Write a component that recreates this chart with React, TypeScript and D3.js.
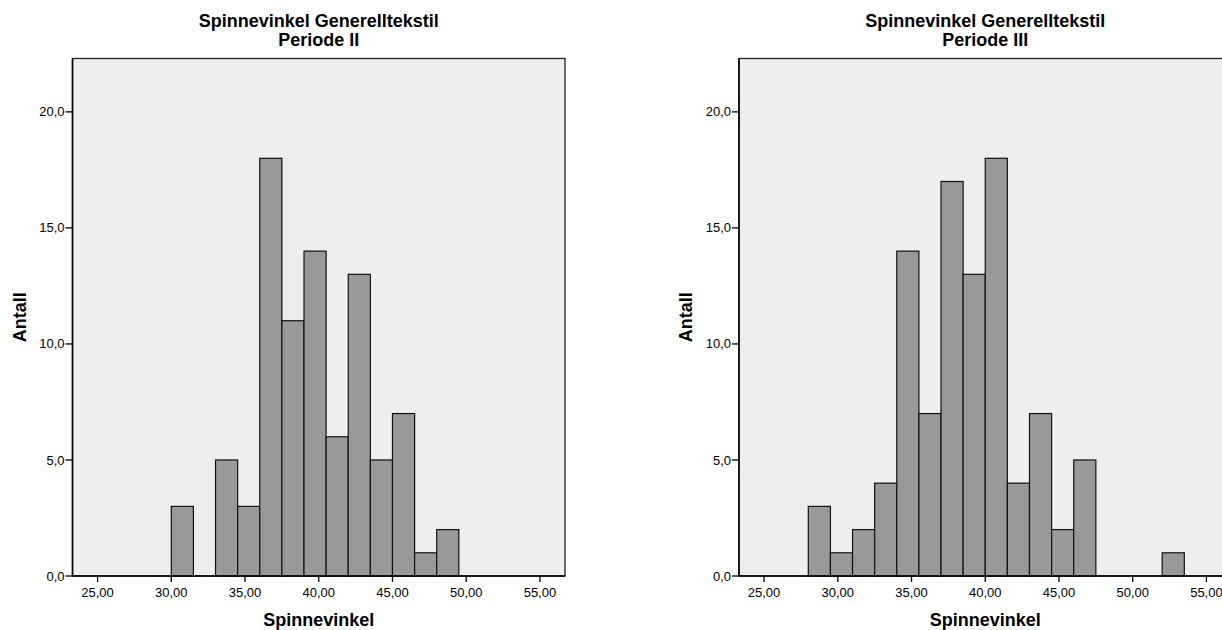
import React from 'react';
import * as d3 from 'd3';

// bin lower edges (width 1.5) and counts
const binWidth = 1.5;
const binStartsII = [30, 31.5, 33, 34.5, 36, 37.5, 39, 40.5, 42, 43.5, 45, 46.5, 48];
const countsII = [3, 0, 5, 3, 18, 11, 14, 6, 13, 5, 7, 1, 2];

const binStartsIII = [28, 29.5, 31, 32.5, 34, 35.5, 37, 38.5, 40, 41.5, 43, 44.5, 46, 47.5, 49, 50.5, 52];
const countsIII = [3, 1, 2, 4, 14, 7, 17, 13, 18, 4, 7, 2, 5, 0, 0, 0, 1];

const xTicks = [25, 30, 35, 40, 45, 50, 55];
const yTicks = [0, 5, 10, 15, 20];
const xDomain = [23.3, 56.7];
const yDomain = [0, 22.3];

const titleLine1 = 'Spinnevinkel Generelltekstil';
const xLabel = 'Spinnevinkel';
const yLabel = 'Antall';

const locale = d3.formatLocale({ decimal: ',', thousands: '.', grouping: [3], currency: ['', ' kr'] });
const fmtX = locale.format('.2f');
const fmtY = locale.format('.1f');

const FONT = '"Liberation Sans", Arial, sans-serif';

// plot area geometry (relative to each panel)
const plotLeft = 72.5;
const plotWidth = 492.5;
const plotTop = 58.5;
const plotBottom = 576;

type HistProps = { offsetX: number; subtitle: string; starts: number[]; counts: number[] };

const Histogram = ({ offsetX, subtitle, starts, counts }: HistProps) => {
  const x = d3.scaleLinear().domain(xDomain).range([plotLeft, plotLeft + plotWidth]);
  const y = d3.scaleLinear().domain(yDomain).range([plotBottom, plotTop]);
  const cx = plotLeft + plotWidth / 2;
  const cy = (plotTop + plotBottom) / 2;

  return (
    <g transform={`translate(${offsetX},0)`}>
      {/* titles */}
      <text x={cx} y={27} textAnchor="middle" fontSize={18} fontWeight="bold" fontFamily={FONT} fill="#000">
        {titleLine1}
      </text>
      <text x={cx} y={45.5} textAnchor="middle" fontSize={18} fontWeight="bold" fontFamily={FONT} fill="#000">
        {subtitle}
      </text>

      {/* plot background + frame */}
      <rect x={plotLeft} y={plotTop} width={plotWidth} height={plotBottom - plotTop} fill="#eeeeee" stroke="#222" strokeWidth={1.3} />

      {/* bars */}
      {counts.map((c, i) =>
        c > 0 ? (
          <rect
            key={i}
            x={x(starts[i])}
            y={y(c)}
            width={x(starts[i] + binWidth) - x(starts[i])}
            height={y(0) - y(c)}
            fill="#999999"
            stroke="#111"
            strokeWidth={1.2}
          />
        ) : null
      )}

      {/* axis lines */}
      <line x1={plotLeft} x2={plotLeft} y1={plotTop} y2={plotBottom} stroke="#000" strokeWidth={1.5} />
      <line x1={plotLeft} x2={plotLeft + plotWidth} y1={plotBottom} y2={plotBottom} stroke="#000" strokeWidth={1.5} />

      {/* y ticks */}
      {yTicks.map((t) => (
        <g key={t}>
          <line x1={plotLeft - 7} x2={plotLeft} y1={y(t)} y2={y(t)} stroke="#000" strokeWidth={1.3} />
          <text x={plotLeft - 8} y={y(t)} dy="0.35em" textAnchor="end" fontSize={13} fontFamily={FONT} fill="#000">
            {fmtY(t)}
          </text>
        </g>
      ))}

      {/* x ticks */}
      {xTicks.map((t) => (
        <g key={t}>
          <line x1={x(t)} x2={x(t)} y1={plotBottom} y2={plotBottom + 6} stroke="#000" strokeWidth={1.3} />
          <text x={x(t)} y={597} textAnchor="middle" fontSize={13} fontFamily={FONT} fill="#000">
            {fmtX(t)}
          </text>
        </g>
      ))}

      {/* axis titles */}
      <text x={cx} y={625.5} textAnchor="middle" fontSize={18} fontWeight="bold" fontFamily={FONT} fill="#000">
        {xLabel}
      </text>
      <text
        transform={`translate(25.5,${cy}) rotate(-90)`}
        textAnchor="middle"
        fontSize={18}
        fontWeight="bold"
        fontFamily={FONT}
        fill="#000"
      >
        {yLabel}
      </text>
    </g>
  );
};

const App = () => {
  return (
    <svg
      width={1222}
      height={630}
      style={{ position: 'absolute', left: 0, top: 0, display: 'block', background: '#fff' }}
    >
      <rect width={1222} height={630} fill="#fff" />
      <Histogram offsetX={0} subtitle="Periode II" starts={binStartsII} counts={countsII} />
      <Histogram offsetX={666.5} subtitle="Periode III" starts={binStartsIII} counts={countsIII} />
    </svg>
  );
};

export default App;
